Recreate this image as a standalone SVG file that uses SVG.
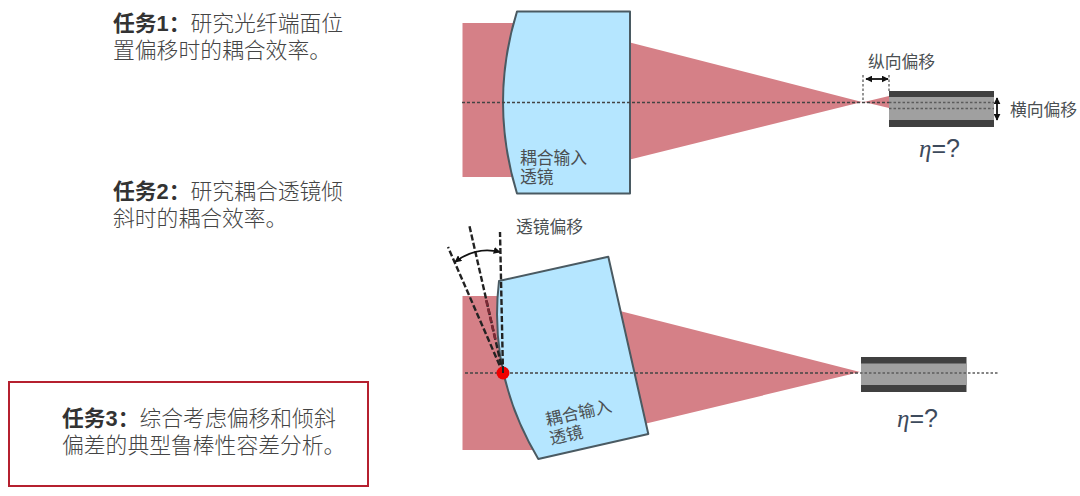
<svg xmlns="http://www.w3.org/2000/svg" width="1080" height="496" viewBox="0 0 1080 496">
<style>
.cjk{font-family:"Noto Sans CJK SC",sans-serif}
.task{font-size:21.8px;fill:#444;font-weight:300}
.b{font-family:"Liberation Sans","Noto Sans CJK SC",sans-serif;font-weight:700;fill:#333}
.lab{font-size:16.8px;fill:#4a4f52;font-weight:400}
.lens{fill:#b5e6ff;stroke:#4a5a62;stroke-width:2;stroke-linejoin:round}
.beam{fill:#d58087}
.dark{fill:#404040}
.core{fill:#a0a0a0}
.axis{stroke:#444;stroke-width:1.3;stroke-dasharray:3 2;fill:none}
.thin{stroke:#5c5c5c;stroke-width:1.3;stroke-dasharray:2.5 2;fill:none}
.tilt{stroke:#222;stroke-width:2.4;stroke-dasharray:6 2.5;fill:none}
.arrow{stroke:#111;stroke-width:1.8;fill:none;marker-start:url(#ah);marker-end:url(#ah)}
.eta{font-size:25px;fill:#3d4a5c;font-family:"Liberation Sans",sans-serif}
</style>
<defs>
<marker id="ah" viewBox="0 0 10 10" refX="9" refY="5" markerWidth="7" markerHeight="7" orient="auto-start-reverse" markerUnits="userSpaceOnUse"><path d="M0 0L10 5L0 10Z" fill="#111"/></marker>
</defs>
<rect width="1080" height="496" fill="#fff"/>

<g id="task1"><text class="cjk task" x="113" y="31"><tspan class="b">任务1：</tspan>研究光纤端面位</text>
<text class="cjk task" x="113" y="58">置偏移时的耦合效率。</text></g>
<g id="task2"><text class="cjk task" x="113" y="199"><tspan class="b">任务2：</tspan>研究耦合透镜倾</text>
<text class="cjk task" x="113" y="226">斜时的耦合效率。</text></g>
<g id="task3"><rect x="9" y="382" width="359" height="104" fill="#fff" stroke="#b5202f" stroke-width="2"/>
<text class="cjk task" x="62" y="426"><tspan class="b">任务3：</tspan>综合考虑偏移和倾斜</text>
<text class="cjk task" x="62" y="453">偏差的典型鲁棒性容差分析。</text></g>

<g id="beam-top"><path class="beam" d="M462.500 23H520V177H462.500Z"/><path class="beam" d="M628 42L862 102L628 160Z"/><path class="beam" d="M864 102L889 96V108Z"/></g>
<g id="lens-top"><path class="lens" d="M517 11.500H630V193.500H517Q489 102 517 11.500Z"/>
<text class="cjk lab" x="520" y="164">耦合输入</text><text class="cjk lab" x="520" y="183">透镜</text></g>
<g id="fiber-top"><rect class="dark" x="889" y="91" width="105" height="36"/><rect class="core" x="889" y="97" width="105" height="23"/></g>

<g id="beam-bottom"><path class="beam" d="M462.500 296H520V400L540 450H462.500Z"/><path class="beam" d="M616 310L860 372L640 425L600 400Z"/></g>
<g id="lens-bottom"><path class="lens" d="M499 281L608.300 256.700L648.300 434L538.300 459Q488 375 499 281Z"/>
<g transform="rotate(-12.500 547 426)"><text class="cjk lab" x="547" y="426">耦合输入</text><text class="cjk lab" x="547" y="445">透镜</text></g></g>
<g id="fiber-bottom"><rect class="dark" x="861" y="357" width="105.500" height="35"/><rect class="core" x="861" y="363.500" width="105.500" height="21.500"/></g>

<g id="connectors">
<path class="axis" d="M462 102.500H889"/>
<path class="thin" d="M889 102.500H994M889 108.500H994"/>
<path class="thin" d="M863 75V102M889 75V92"/>
<path class="arrow" d="M866 79H888"/>
<path class="arrow" d="M997 98V120"/>
<path class="axis" d="M465 373H860"/>
<path class="thin" d="M860 373H999"/>
<path class="tilt" d="M503 373L500 232"/>
<path class="tilt" d="M503 373L469 224"/>
<path d="M486.200 300L495.500 340" stroke="#7c2a35" stroke-width="2.6" stroke-dasharray="6 2.500" fill="none"/>
<path class="tilt" d="M503 373L448 247"/>
<path class="arrow" d="M455 262Q476 246 500 252"/>
</g>
<circle id="pivot" cx="503" cy="373" r="6.500" fill="#f00000"/>
<path d="M503 373V366" stroke="#222" stroke-width="2"/>

<g id="labels">
<text class="cjk lab" x="868" y="68">纵向偏移</text>
<text class="cjk lab" x="1010" y="116">横向偏移</text>
<text class="cjk lab" x="516" y="233">透镜偏移</text>
<text class="eta" x="919" y="157"><tspan font-family="Liberation Serif" font-style="italic">η</tspan>=?</text>
<text class="eta" x="897" y="427"><tspan font-family="Liberation Serif" font-style="italic">η</tspan>=?</text>
</g>
</svg>
